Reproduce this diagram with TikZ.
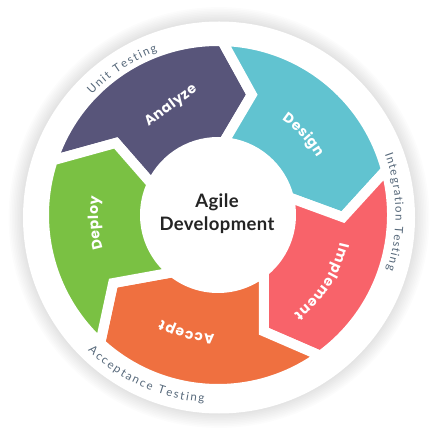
\documentclass[tikz,border=0pt]{standalone}
\usepackage{fontspec}
\setmainfont{Lato}
\newfontfamily\popfont{Poppins}
\usetikzlibrary{decorations.text}
\definecolor{cAnalyze}{HTML}{58557A}
\definecolor{cDesign}{HTML}{61C3D0}
\definecolor{cImpl}{HTML}{F8636A}
\definecolor{cAccept}{HTML}{EF7040}
\definecolor{cDeploy}{HTML}{7AC143}
\definecolor{cOuter}{HTML}{56687A}
\definecolor{cCenter}{HTML}{242424}
\newcommand\segfont{\popfont\fontsize{14}{14}\selectfont\bfseries\color{white}}
\newcommand\outfont{\fontsize{11.5}{11.5}\selectfont\color{cOuter}}
\tikzset{
  ringpart/.style={draw=white, line width=10pt, line join=miter},
  centertext/.style={font=\fontsize{18.5}{18.5}\selectfont\bfseries\addfontfeature{LetterSpace=2}, text=cCenter, anchor=base, inner sep=0pt}
}
% #1 colour, #2-#4 trailing boundary (outer, tip, inner), #5-#7 leading boundary
\newcommand\ringseg[7]{%
  \filldraw[ringpart, fill=#1] (#2:174pt) arc[start angle=#2, end angle=#5, radius=174pt]
    -- (#6:125pt) -- (#7:73pt) arc[start angle=#7, end angle=#4, radius=73pt]
    -- (#3:125pt) -- cycle;}
\newcommand\cwlabel[5]{%
  \path[decorate, decoration={text along path, text={|#1|#2}, text align=fit to path}]
    ({#3+#4/2}:#5) arc[start angle={#3+#4/2}, end angle={#3-#4/2}, radius=#5];}
\newcommand\ccwlabel[5]{%
  \path[decorate, decoration={text along path, text={|#1|#2}, text align=fit to path}]
    ({#3-#4/2}:#5) arc[start angle={#3-#4/2}, end angle={#3+#4/2}, radius=#5];}
\begin{document}
\begin{tikzpicture}[x=1pt, y=1pt]
\useasboundingbox (0,0) rectangle (438,436);
\fill[white] (0,0) rectangle (438,436);
% soft shadow and white disk
\coordinate (D) at (219,218.5);
\foreach \k in {0,...,9} \fill[black, opacity=0.011] (D) circle[radius={196pt+1.6pt*\k}];
\fill[white] (D) circle[radius=196pt];
\coordinate (C) at (218,221);
\begin{scope}[shift={(C)}]
  \ringseg{cAnalyze}{161.7}{144.8}{155}{88.6}{74.3}{85.5}
  \ringseg{cDesign}{88.6}{74.3}{85.5}{15}{-1}{14}
  \ringseg{cImpl}{15}{-1}{14}{-54}{-68.5}{-51}
  \ringseg{cAccept}{-54}{-68.5}{-51}{-132.6}{-147}{-128.3}
  \ringseg{cDeploy}{227.4}{213}{231.7}{161.7}{144.8}{155}
  % segment labels
  \cwlabel{\segfont}{Design}{43.2}{26}{114.5pt}
  \cwlabel{\segfont}{Implement}{-32.7}{40}{125pt}
  \cwlabel{\segfont}{Accept}{-104.9}{26.5}{119.5pt}
  \cwlabel{\segfont}{Deploy}{183.8}{25}{120pt}
  % outer labels
  \cwlabel{\outfont}{Unit Testing}{123.3}{26}{174.5pt}
  \cwlabel{\outfont}{Integration Testing}{1}{38}{177.5pt}
  \ccwlabel{\outfont}{Acceptance Testing}{246}{39.5}{188pt}
\end{scope}
\coordinate (an1) at (148.5,309);
\coordinate (an2) at (197.5,345.5);
\path[decorate, decoration={text along path, text={|\segfont|Analyze}, text align=fit to path}] (an1) -- (an2);
\node[centertext] (agile) at (217,228) {Agile};
\node[centertext] (dev) at (217,205.5) {Development};
\end{tikzpicture}
\end{document}
